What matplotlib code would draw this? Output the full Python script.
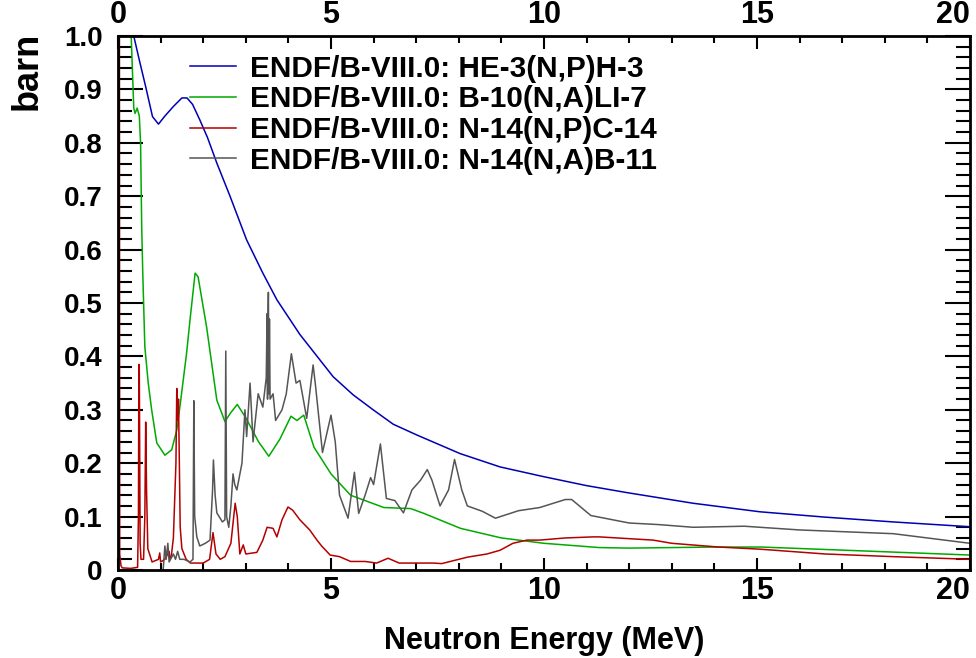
import matplotlib
matplotlib.use("Agg")
import matplotlib.pyplot as plt
from matplotlib.ticker import MultipleLocator

plt.rcParams["font.family"] = ["Liberation Sans", "DejaVu Sans"]
plt.rcParams["font.weight"] = "bold"

# ---- datos (energia en MeV, seccion eficaz en barn) ----
he3_x = [0.30, 0.37, 0.50, 0.65, 0.81, 0.95, 1.10, 1.30, 1.50, 1.62,
         1.75, 1.92, 2.10, 2.32, 2.63, 3.02, 3.40, 3.73, 4.27, 5.05,
         5.52, 5.99, 6.46, 7.01, 8.03, 8.97, 9.98, 11.0, 11.94, 13.5,
         15.07, 16.6, 18.2, 20.0]
he3_y = [1.03, 1.0, 0.955, 0.905, 0.849, 0.835, 0.85, 0.868, 0.884, 0.884,
         0.872, 0.843, 0.81, 0.762, 0.70, 0.618, 0.556, 0.506, 0.441, 0.362,
         0.328, 0.30, 0.273, 0.253, 0.218, 0.193, 0.175, 0.158, 0.145, 0.125,
         0.109, 0.099, 0.09, 0.081]

b10_x = [0.30, 0.31, 0.37, 0.40, 0.45, 0.50, 0.53, 0.556, 0.58, 0.63,
         0.71, 0.79, 0.91, 1.10, 1.26, 1.38, 1.46, 1.61, 1.69, 1.81,
         1.88, 2.08, 2.32, 2.51, 2.65, 2.80, 3.00, 3.30, 3.54, 3.80,
         4.06, 4.20, 4.36, 4.60, 5.00, 5.46, 6.24, 6.87, 7.18, 8.04,
         9.00, 10.0, 11.3, 12.0, 14.0, 15.1, 17.4, 20.0]
b10_y = [1.05, 1.0, 0.865, 0.855, 0.865, 0.85, 0.80, 0.645, 0.56, 0.418,
         0.35, 0.30, 0.238, 0.215, 0.225, 0.262, 0.31, 0.406, 0.468, 0.556,
         0.549, 0.455, 0.318, 0.278, 0.295, 0.31, 0.285, 0.24, 0.213, 0.245,
         0.288, 0.28, 0.29, 0.23, 0.18, 0.14, 0.117, 0.115, 0.106, 0.078,
         0.06, 0.05, 0.042, 0.041, 0.043, 0.043, 0.036, 0.028]

n14p_x = [0.03, 0.04, 0.07, 0.10, 0.30, 0.46, 0.48, 0.49, 0.50, 0.52,
          0.54, 0.60, 0.63, 0.65, 0.67, 0.70, 0.80, 0.95, 0.98, 1.00,
          1.10, 1.20, 1.22, 1.25, 1.30, 1.36, 1.38, 1.40, 1.42, 1.44,
          1.46, 1.50, 1.60, 1.70, 2.00, 2.15, 2.23, 2.30, 2.40, 2.51,
          2.65, 2.75, 2.80, 2.86, 2.94, 3.00, 3.26, 3.40, 3.50, 3.64,
          3.73, 3.85, 3.99, 4.10, 4.27, 4.50, 4.67, 4.78, 4.98, 5.20,
          5.46, 5.80, 6.07, 6.34, 6.60, 7.40, 7.60, 8.20, 8.66, 8.97,
          9.27, 9.60, 9.90, 10.5, 11.15, 11.3, 12.56, 13.0, 14.1, 15.07,
          16.6, 18.2, 20.0]
n14p_y = [1.5, 0.03, 0.008, 0.004, 0.003, 0.005, 0.1, 0.385, 0.37, 0.05,
          0.02, 0.02, 0.1, 0.277, 0.15, 0.04, 0.015, 0.02, 0.032, 0.015,
          0.02, 0.035, 0.02, 0.025, 0.06, 0.2, 0.34, 0.28, 0.32, 0.2,
          0.08, 0.04, 0.02, 0.013, 0.013, 0.02, 0.07, 0.03, 0.02, 0.025,
          0.05, 0.125, 0.1, 0.03, 0.047, 0.03, 0.033, 0.056, 0.08, 0.078,
          0.062, 0.094, 0.118, 0.112, 0.094, 0.075, 0.056, 0.045, 0.028, 0.025,
          0.016, 0.016, 0.013, 0.022, 0.013, 0.013, 0.012, 0.024, 0.03, 0.037,
          0.05, 0.056, 0.056, 0.06, 0.062, 0.062, 0.056, 0.05, 0.043, 0.039,
          0.03, 0.025, 0.02]

n14a_x = [1.00, 1.06, 1.10, 1.13, 1.17, 1.20, 1.30, 1.35, 1.40, 1.45,
          1.55, 1.69, 1.76, 1.78, 1.80, 1.85, 1.92, 2.05, 2.16, 2.22,
          2.24, 2.28, 2.32, 2.45, 2.51, 2.53, 2.55, 2.60, 2.65, 2.70,
          2.74, 2.79, 2.91, 2.98, 3.02, 3.10, 3.17, 3.29, 3.40, 3.48,
          3.50, 3.51, 3.52, 3.53, 3.545, 3.555, 3.57, 3.64, 3.70, 3.85,
          3.95, 4.07, 4.18, 4.27, 4.43, 4.58, 4.63, 4.80, 5.00, 5.10,
          5.20, 5.40, 5.55, 5.65, 5.80, 5.93, 6.00, 6.16, 6.30, 6.50,
          6.70, 6.90, 7.10, 7.26, 7.37, 7.56, 7.76, 7.90, 8.07, 8.20,
          8.55, 8.86, 9.40, 9.90, 10.5, 10.65, 11.1, 12.0, 12.7, 13.5,
          14.7, 16.0, 18.2, 20.0]
n14a_y = [0.0, 0.0, 0.045, 0.02, 0.05, 0.015, 0.03, 0.02, 0.035, 0.02,
          0.02, 0.015, 0.02, 0.317, 0.1, 0.062, 0.045, 0.05, 0.056, 0.15,
          0.206, 0.14, 0.107, 0.09, 0.094, 0.41, 0.1, 0.08, 0.12, 0.18,
          0.16, 0.15, 0.2, 0.30, 0.25, 0.35, 0.24, 0.33, 0.305, 0.36,
          0.48, 0.32, 0.46, 0.52, 0.33, 0.47, 0.32, 0.33, 0.28, 0.30,
          0.33, 0.405, 0.35, 0.355, 0.284, 0.384, 0.35, 0.22, 0.29, 0.24,
          0.14, 0.097, 0.183, 0.106, 0.14, 0.173, 0.16, 0.236, 0.134, 0.13,
          0.107, 0.15, 0.168, 0.188, 0.168, 0.12, 0.15, 0.207, 0.15, 0.12,
          0.11, 0.097, 0.111, 0.117, 0.132, 0.132, 0.102, 0.088, 0.085, 0.08,
          0.082, 0.075, 0.068, 0.05]

series = [
    (he3_x, he3_y, "#0000b4", "ENDF/B-VIII.0: HE-3(N,P)H-3"),
    (b10_x, b10_y, "#00aa00", "ENDF/B-VIII.0: B-10(N,A)LI-7"),
    (n14p_x, n14p_y, "#b40000", "ENDF/B-VIII.0: N-14(N,P)C-14"),
    (n14a_x, n14a_y, "#555555", "ENDF/B-VIII.0: N-14(N,A)B-11"),
]

fig = plt.figure(figsize=(9.76, 6.58), dpi=100)
ax = fig.add_axes([118 / 976, 88 / 658, 852 / 976, 534 / 658])

for x, y, c, lab in series:
    ax.plot(x, y, color=c, lw=1.1, label=lab)

ax.set_xlim(0, 20)
ax.set_ylim(0, 1.0)
ax.xaxis.set_major_locator(MultipleLocator(5))
ax.xaxis.set_minor_locator(MultipleLocator(1))
ax.yaxis.set_minor_locator(MultipleLocator(0.02))
ax.set_yticks([0, 0.1, 0.2, 0.3, 0.4, 0.5, 0.6, 0.7, 0.8, 0.9, 1.0])
ax.set_yticklabels(["0", "0.1", "0.2", "0.3", "0.4", "0.5", "0.6", "0.7", "0.8", "0.9", "1.0"])

ax.tick_params(axis="x", which="both", direction="in", top=True, labeltop=True,
               labelsize=22, width=1.5, pad=4)
ax.tick_params(axis="x", which="major", length=9)
ax.tick_params(axis="x", which="minor", length=5)
ax.tick_params(axis="y", which="both", direction="in", right=True,
               labelsize=20, width=1.5, pad=11)
ax.tick_params(axis="y", which="major", length=18)
ax.tick_params(axis="y", which="minor", length=10)
for s in ax.spines.values():
    s.set_linewidth(2)

ax.set_xlabel("Neutron Energy (MeV)", fontsize=22, fontweight="bold", va="top")
ax.xaxis.set_label_coords(0.5, -0.104)
ax.set_ylabel("barn", fontsize=26, fontweight="bold")
ax.yaxis.set_label_coords(-0.086, 0.935)

ax.legend(loc="upper left", bbox_to_anchor=(0.085, 0.965), frameon=False,
          fontsize=21.4, handlelength=1.55, handletextpad=0.45, labelspacing=0.09,
          borderpad=0, borderaxespad=0)

# la etiqueta "20" queda pegada al borde derecho
fig.canvas.draw()
last = ax.xaxis.get_major_ticks()[-1]
for t in ax.xaxis.get_major_ticks():
    if abs(t.get_loc() - 20) < 1e-9:
        last = t
last.label1.set_horizontalalignment("right")
last.label2.set_horizontalalignment("right")

fig.savefig("out.png", dpi=100)
